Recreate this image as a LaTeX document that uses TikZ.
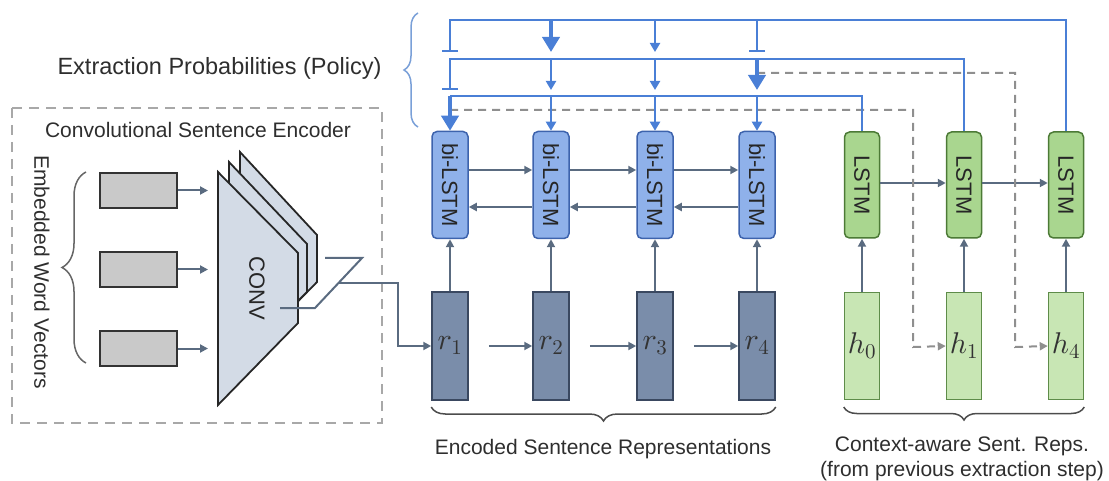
\documentclass[tikz,border=0pt]{standalone}
\usepackage[no-math]{fontspec}
\setmainfont{Liberation Sans}
\DeclareFontShape{OML}{cmm}{m}{it}{<->cmmi10}{}
\DeclareFontShape{OT1}{cmr}{m}{n}{<->cmr10}{}
\usetikzlibrary{arrows.meta,decorations.pathreplacing,calc}
\definecolor{bluec}{HTML}{4A7FD6}
\definecolor{blfill}{HTML}{8FB1EA}
\definecolor{blborder}{HTML}{3D63AD}
\definecolor{lfill}{HTML}{A9D68F}
\definecolor{lborder}{HTML}{4C7A36}
\definecolor{hfill}{HTML}{C8E6B4}
\definecolor{hborder}{HTML}{5E8C49}
\definecolor{rfill}{HTML}{7A8DAA}
\definecolor{rborder}{HTML}{3A4860}
\definecolor{convfill}{HTML}{D3DBE6}
\definecolor{wfill}{HTML}{C9C9C9}
\definecolor{textc}{HTML}{2E2E2E}
\definecolor{grayc}{HTML}{5A6B80}
\definecolor{dashbox}{HTML}{A8A8A8}
\definecolor{dashc}{HTML}{8F8F8F}
\definecolor{bracec}{HTML}{7AA0D8}
\begin{document}
\begin{tikzpicture}[x=1pt,y=-1pt,
  txt/.style={text=textc,font=\fontsize{21}{25}\selectfont},
  bilstm/.style={draw=blborder,fill=blfill,line width=1.5pt,rounded corners=5pt,minimum width=36pt,minimum height=107pt,inner sep=0pt,font=\fontsize{22}{26}\selectfont,text=black!85},
  lstm/.style={draw=lborder,fill=lfill,line width=1.5pt,rounded corners=5pt,minimum width=35pt,minimum height=106pt,inner sep=0pt,font=\fontsize{22}{26}\selectfont,text=black!85},
  rbox/.style={draw=rborder,fill=rfill,line width=1.5pt,minimum width=36pt,minimum height=108pt,inner sep=0pt,font=\fontsize{30}{34}\selectfont,text=black!80},
  hbox/.style={draw=hborder,fill=hfill,line width=1.5pt,minimum width=35pt,minimum height=107pt,inner sep=0pt,font=\fontsize{30}{34}\selectfont,text=black!80},
  wbox/.style={draw=black!80,fill=wfill,line width=1.5pt,minimum width=77pt,minimum height=35pt,inner sep=0pt},
  blu/.style={draw=bluec,line width=2pt},
  thinarr/.style={blu,-{Triangle[width=10pt,length=9pt]}},
  thickarr/.style={draw=bluec,line width=4.5pt,-{Triangle[width=17pt,length=15pt]}},
  barend/.style={blu,-{Bar[width=16pt,line width=2pt]}},
  gline/.style={draw=grayc,line width=2pt},
  garr/.style={gline,-{Triangle[width=8pt,length=8pt]}},
  dashg/.style={draw=dashc,line width=2pt,dash pattern=on 8pt off 6pt},
  dasharr/.style={dashg,-{Triangle[width=8pt,length=8pt]}},
  bracebox/.style={decorate,decoration={brace,amplitude=#1}},
  plate/.style={draw=black!85,fill=convfill,line width=1.8pt,line join=miter},
]
\useasboundingbox (0,0) rectangle (1109,481);

% ---------- Convolutional sentence encoder ----------
\draw[draw=dashbox,line width=2pt,dash pattern=on 10pt off 7pt] (12,108) rectangle (382,423);
\node[txt] (enctitle) at (198,130) {Convolutional Sentence Encoder};
\node[txt,rotate=-90] (ewv) at (42,272) {Embedded Word Vectors};
\draw[draw=black!60,line width=1.5pt,bracebox=24pt] (86,363) -- (86,172);

\node[wbox] (W1) at (138.5,190.5) {};
\node[wbox] (W2) at (138.5,269.5) {};
\node[wbox] (W3) at (138.5,348.5) {};
\foreach \i in {1,2,3} {
  \draw[garr] (W\i.east) -- (W\i.east -| 208,0);
}

% conv plates
\draw[plate] (240,152) -- (317,235) -- (317,282) -- (240,360) -- cycle;
\draw[plate] (229,162) -- (307,244) -- (307,292) -- (229,370) -- cycle;
\draw[plate] (218,172) -- (298,253) -- (298,323) -- (218,405) -- cycle;
\node[rotate=-90,font=\fontsize{22}{26}\selectfont,text=black!85] (conv) at (257,288) {CONV};

% feature map and output
\draw[gline] (325,258) -- (362,258) -- (315,308) -- (280,308);
\coordinate (zo) at (338.5,283);

% ---------- r nodes and bi-LSTMs ----------
\foreach \i/\x in {1/450,2/551,3/655,4/757} {
  \node[rbox] (R\i) at (\x,346) {$r_{\i}$};
  \node[bilstm] (B\i) at (\x,185) {\rotatebox{-90}{bi-LSTM}};
  \draw[garr] (R\i.north) -- (B\i.south);
}
\draw[garr] (zo) -- (398,283) |- (R1.west);
\foreach \i/\j in {1/2,2/3,3/4} {
  \draw[garr,shorten <=20pt] (R\i.east) -- (R\j.west);
  \draw[garr] (B\i.east |- 0,170) -- (B\j.west |- 0,170);
  \draw[garr] (B\j.west |- 0,207) -- (B\i.east |- 0,207);
}
\draw[draw=black!70,line width=1.5pt,bracebox=14pt] (R4.south east |- 0,407) -- (R1.south west |- 0,407);
\node[txt] (encl) at (603,449) {Encoded Sentence Representations};

% ---------- h nodes and LSTMs ----------
\node[hbox] (H1) at (862,346) {$h_0$};
\node[hbox] (H2) at (964,346) {$h_1$};
\node[hbox] (H3) at (1066,346) {$h_4$};
\node[lstm] (L1) at (862,185) {\rotatebox{-90}{LSTM}};
\node[lstm] (L2) at (964,185) {\rotatebox{-90}{LSTM}};
\node[lstm] (L3) at (1066,185) {\rotatebox{-90}{LSTM}};
\foreach \i in {1,2,3} {\draw[garr] (H\i.north) -- (L\i.south);}
\draw[garr] (L1.east |- 0,183) -- (L2.west |- 0,183);
\draw[garr] (L2.east |- 0,183) -- (L3.west |- 0,183);
\draw[draw=black!70,line width=1.5pt,bracebox=13pt] (H3.south east |- 0,407) -- (H1.south west |- 0,407);
\node[txt,align=center] (ctxl) at (962,459) {Context-aware Sent. Reps.\\(from previous extraction step)};

% ---------- dashed feedback ----------
\draw[dasharr] (B1.north |- 0,110) -| (913,347) -- (H2.west);
\draw[dasharr] (B4.north |- 0,73) -| (1015,347) -- (H3.west);

% ---------- policy lines ----------
% from L3
\draw[barend] (L3.north) |- (B1.north |- 0,20) -- (B1.north |- 0,52);
\draw[thickarr] (B2.north |- 0,20) -- (B2.north |- 0,52);
\draw[thinarr] (B3.north |- 0,20) -- (B3.north |- 0,52);
\draw[barend] (B4.north |- 0,20) -- (B4.north |- 0,52);
% from L2
\draw[barend] (L2.north) |- (B1.north |- 0,59) -- (B1.north |- 0,90);
\draw[thinarr] (B2.north |- 0,59) -- (B2.north |- 0,90);
\draw[thinarr] (B3.north |- 0,59) -- (B3.north |- 0,90);
\draw[thickarr] (B4.north |- 0,59) -- (B4.north |- 0,90);
% from L1
\draw[blu] (L1.north) |- (B1.north |- 0,96);
\draw[thickarr] (B1.north |- 0,96) -- (B1.north);
\draw[thinarr] (B2.north |- 0,96) -- (B2.north);
\draw[thinarr] (B3.north |- 0,96) -- (B3.north);
\draw[thinarr] (B4.north |- 0,96) -- (B4.north);

\draw[draw=bracec,line width=1.5pt,bracebox=14pt] (418,127) -- (418,13);
\node[txt,anchor=east,font=\fontsize{23.5}{27}\selectfont] (policy) at (385,68) {Extraction Probabilities (Policy)};
\end{tikzpicture}
\end{document}
